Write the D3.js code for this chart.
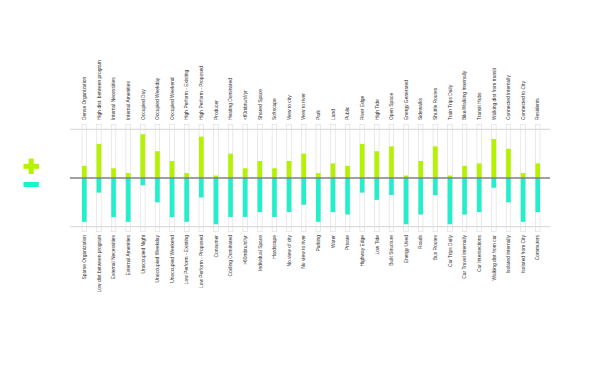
<!DOCTYPE html>
<html>
<head>
<meta charset="utf-8">
<script src="https://cdn.jsdelivr.net/npm/d3@7"></script>
<style>
  body { margin: 0; background: #fff; }
  svg { display: block; }
  text { font-family: "Liberation Sans", Arial, sans-serif; }
</style>
</head>
<body>
<svg id="chart" width="600" height="388"></svg>
<script>
// positive attribute (top) and its opposite (bottom)
var topLabels = [
    'Dense Organization', 'High dist. between program', 'Internal Necessities', 'Internal Amenities',
    'Occupied Day', 'Occupied Weekday', 'Occupied Weekend', 'High Perform - Existing',
    'High Perform - Proposed', 'Producer', 'Heating Dominated', '<60mbtu/sf/yr',
    'Shared Space', 'Softscape', 'View to  city', 'View to river',
    'Park', 'Land', 'Public', 'River Edge',
    'High Tide', 'Open Space', 'Energy Generated', 'Sidewalks',
    'Shuttle Routes', 'Train Trips  Daily', 'Bike/Walking Internally', 'Transit Hubs',
    'Walking dist from transit', 'Connected Internally', 'Connected to City', 'Residents'
];
var bottomLabels = [
    'Sparse Organization', 'Low dist between program', 'External Necessities', 'External Amenities',
    'Unoccupied Night', 'Unoccupied Weekday', 'Unoccupied Weekend', 'Low Perform - Existing',
    'Low Perform - Proposed', 'Consumer', 'Cooling Dominated', '>60mbtu/sf/yr',
    'Individual Space', 'Hardscape', 'No view of city', 'No view to river',
    'Parking', 'Water', 'Private', 'Highway Edge',
    'Low Tide', 'Built Structure', 'Energy Used', 'Roads',
    'Bus Routes', 'Car Trips Daily', 'Car Travel Internally', 'Car Intersections',
    'Walking dist from car', 'Isolated Internally', 'Isolated from City', 'Commuters'
];
var plusValues = [5, 14, 4, 2, 18, 11, 7, 2, 17, 1, 10, 4, 7, 4, 7, 10, 2, 6, 5, 14, 11, 13, 1, 7, 13, 1, 5, 6, 16, 12, 2, 6];
var minusValues = [18, 6, 16, 18, 3, 10, 16, 18, 8, 19, 16, 16, 14, 16, 14, 11, 18, 14, 15, 6, 9, 7, 19, 15, 7, 19, 15, 14, 4, 10, 18, 14];

var green = '#b4f200';
var cyan = '#22efcc';

var svg = d3.select('#chart');

var x = d3.scalePoint()
    .domain(d3.range(topLabels.length))
    .range([84.3, 537.7]);

var y = d3.scaleLinear()
    .domain([-20, 20])
    .range([226.7, 129.3]);

var barW = 4.6;

// reference lines
svg.selectAll('line.guide')
    .data([20, -20])
    .enter().append('line')
    .attr('class', 'guide')
    .attr('x1', 70).attr('x2', 550)
    .attr('y1', function(d) { return y(d); })
    .attr('y2', function(d) { return y(d); })
    .attr('stroke', '#c8c8c8')
    .attr('stroke-width', 0.8);

var cols = svg.selectAll('g.col')
    .data(topLabels)
    .enter().append('g')
    .attr('class', 'col')
    .attr('transform', function(d, i) { return 'translate(' + x(i) + ',0)'; });

// thin frame around each column
cols.append('rect')
    .attr('x', -barW / 2)
    .attr('y', y(20) - 5)
    .attr('width', barW)
    .attr('height', y(-20) - y(20) + 10)
    .attr('fill', 'none')
    .attr('stroke', '#dcdcdc')
    .attr('stroke-width', 0.6);

cols.append('rect')
    .attr('x', -barW / 2)
    .attr('y', function(d, i) { return y(plusValues[i]); })
    .attr('width', barW)
    .attr('height', function(d, i) { return y(0) - y(plusValues[i]); })
    .attr('fill', green);

cols.append('rect')
    .attr('x', -barW / 2)
    .attr('y', y(0))
    .attr('width', barW)
    .attr('height', function(d, i) { return y(-minusValues[i]) - y(0); })
    .attr('fill', cyan);

cols.append('text')
    .attr('transform', 'translate(0,120) rotate(-90)')
    .attr('dy', '0.35em')
    .attr('text-anchor', 'start')
    .attr('font-size', 4.9)
    .attr('fill', '#333')
    .text(function(d) { return d; });

cols.append('text')
    .attr('transform', 'translate(0,235) rotate(-90)')
    .attr('dy', '0.35em')
    .attr('text-anchor', 'end')
    .attr('font-size', 4.9)
    .attr('fill', '#333')
    .text(function(d, i) { return bottomLabels[i]; });

// zero line
svg.append('line')
    .attr('x1', 70).attr('x2', 550)
    .attr('y1', y(0)).attr('y2', y(0))
    .attr('stroke', '#808080')
    .attr('stroke-width', 1.4);

// plus / minus marks
svg.append('rect').attr('x', 23.5).attr('y', 163.8).attr('width', 15.5).attr('height', 5).attr('fill', green);
svg.append('rect').attr('x', 28.7).attr('y', 158.6).attr('width', 5).attr('height', 15.5).attr('fill', green);
svg.append('rect').attr('x', 23.5).attr('y', 182).attr('width', 15.3).attr('height', 5).attr('fill', cyan);
</script>
</body>
</html>
